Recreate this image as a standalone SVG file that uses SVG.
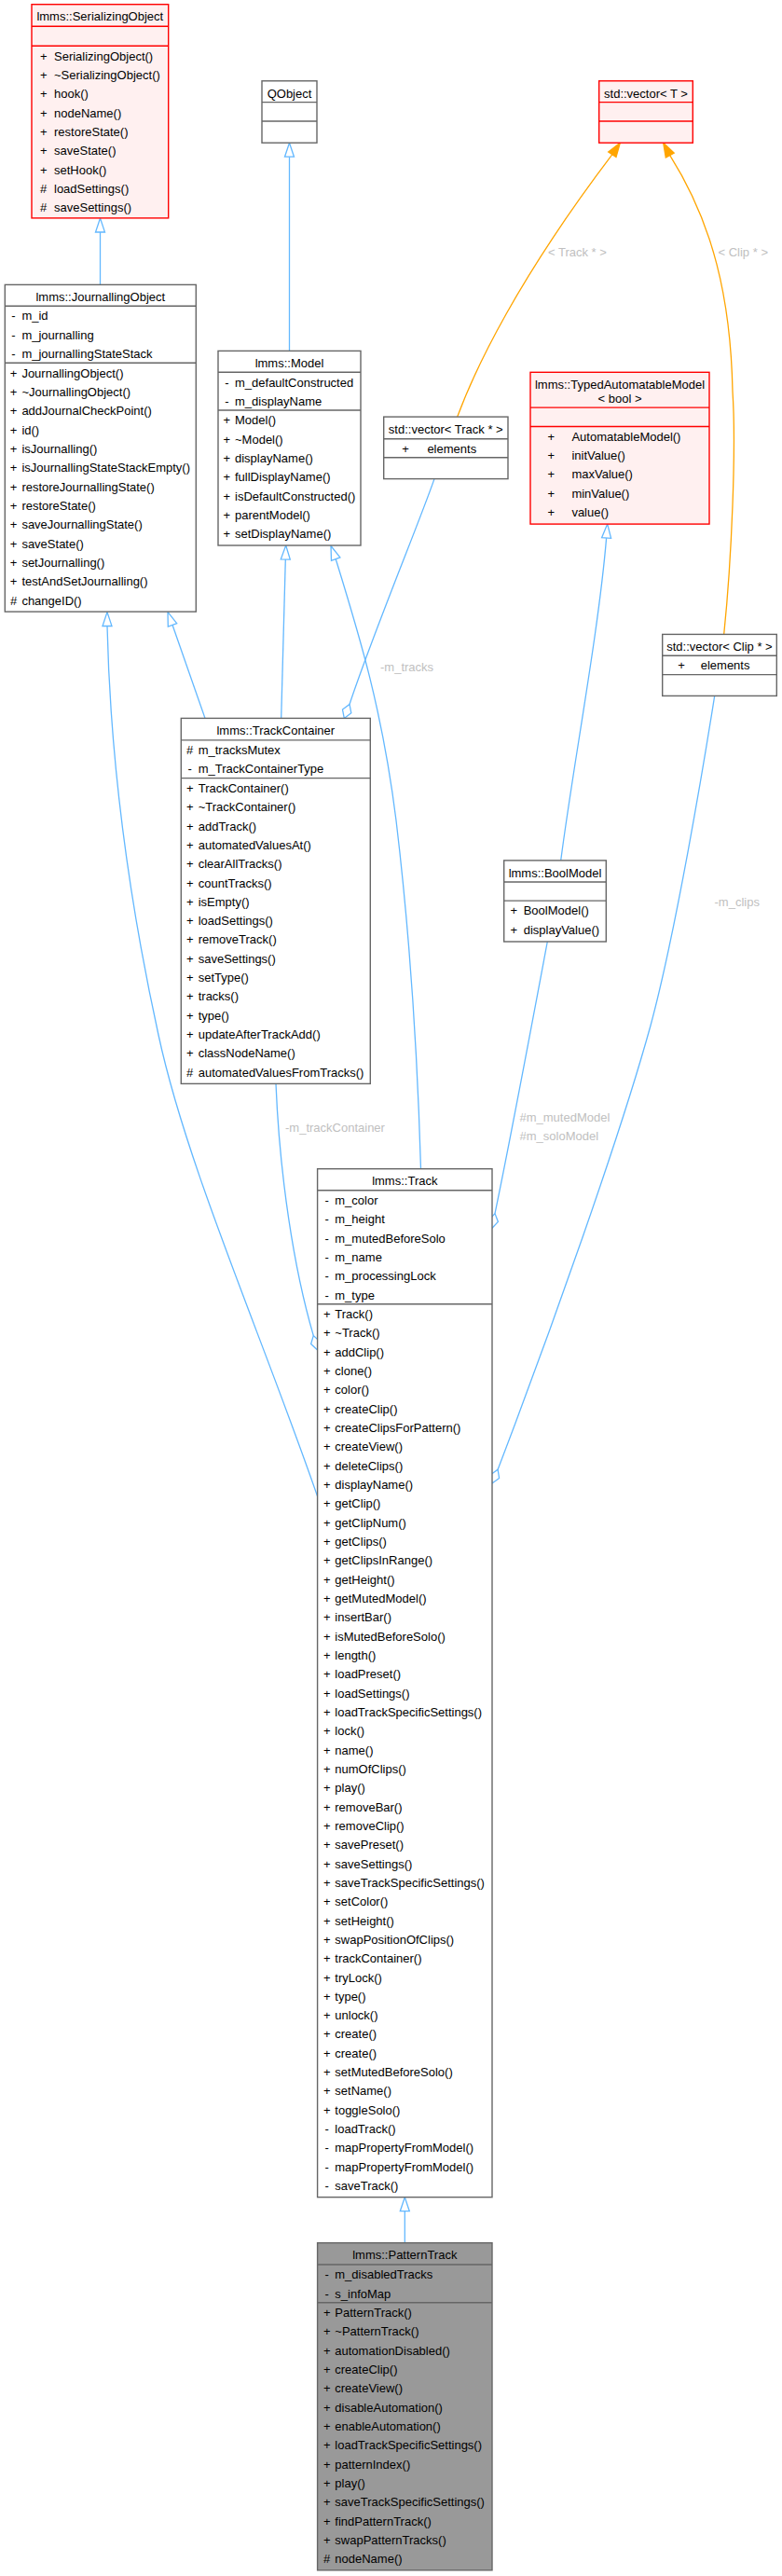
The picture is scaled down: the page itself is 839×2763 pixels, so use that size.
<svg xmlns="http://www.w3.org/2000/svg" width="839" height="2763" viewBox="0 0 839 2763">
<style>
text{font-family:"Liberation Sans",Arial,Helvetica,sans-serif;font-size:13px;fill:#000}
.t{text-anchor:middle}
.s{text-anchor:middle}
.lbl{fill:#c0c0c0}
.box{fill:#fff;stroke:#666;stroke-width:1.4}
.red{fill:#fff0f0;stroke:#f00;stroke-width:1.4}
.cur{fill:#999;stroke:#666;stroke-width:1.4}
.sep{stroke:#666;stroke-width:1.4}
.rsep{stroke:#f00;stroke-width:1.4}
.e{fill:none;stroke:#63b8ff;stroke-width:1.3}
.ah{fill:#fff;stroke:#63b8ff;stroke-width:1.3}
.o{fill:none;stroke:#ffa500;stroke-width:1.3}
.oh{fill:#ffa500;stroke:#ffa500;stroke-width:1.3}
</style>
<rect x="0" y="0" width="839" height="2763" fill="#fff"/>

<g id="connectors">
<!-- inheritance -->
<path class="e" d="M107.5,249 L107.5,305.4"/>
<polygon class="ah" points="107.5,234 102.5,249 112.5,249"/>
<path class="e" d="M310.5,168.2 L310.5,376.4"/>
<polygon class="ah" points="310.5,153.2 305.5,168.2 315.5,168.2"/>
<path class="e" d="M185,670.3 L220,770.4"/>
<polygon class="ah" points="180,656.3 189.7,668.7 180.3,672"/>
<path class="e" d="M306.3,600 L301.7,770.4"/>
<polygon class="ah" points="306.7,585 311.3,600.1 301.3,599.9"/>
<path class="e" d="M115,671.5 C118,800 135,950 170,1110 C200,1250 280,1430 340.6,1605"/>
<polygon class="ah" points="115,656.5 110,671.5 120,671.5"/>
<path class="e" d="M360.2,599.6 C385,680 410,760 425,880 C437,980 447,1100 451.5,1253.7"/>
<polygon class="ah" points="355,585.5 364.9,597.9 355.5,601.4"/>
<path class="e" d="M650.6,577.1 C642,680 615,820 601.7,922.9"/>
<polygon class="ah" points="651.7,562.1 655.6,577.4 645.6,576.7"/>
<path class="e" d="M434.3,2371.7 L434.3,2405.7"/>
<polygon class="ah" points="434.3,2356.7 429.3,2371.7 439.3,2371.7"/>
<!-- usage -->
<path class="e" d="M466,513.6 C450,560 400,680 375,755.5"/>
<polygon class="ah" points="369.3,770.4 376.8,764.7 375,755.5 367.5,761.1"/>
<text class="lbl" x="408" y="719.5">-m_tracks</text>
<path class="e" d="M296,1162.4 C300,1260 315,1360 336.3,1432.6"/>
<polygon class="ah" points="340.6,1448 343.3,1439 336.3,1432.6 333.6,1441.6"/>
<text class="lbl" x="306" y="1213.5">-m_trackContainer</text>
<path class="e" d="M587.3,1010 C576,1070 548,1220 531,1301.6"/>
<polygon class="ah" points="528,1317.3 534.4,1310.4 531,1301.6 524.6,1308.5"/>
<text class="lbl" x="557.5" y="1203">#m_mutedModel</text>
<text class="lbl" x="557.5" y="1223">#m_soloModel</text>
<path class="e" d="M766.7,746.4 C755,820 725,1000 698,1100 C665,1220 590,1430 534.1,1576.2"/>
<polygon class="ah" points="528,1591 535.6,1585.5 534.1,1576.2 526.4,1581.7"/>
<text class="lbl" x="766.5" y="972">-m_clips</text>
<!-- template -->
<path class="o" d="M490.7,447.1 C510,395 555,300 656.9,165.7"/>
<polygon class="oh" points="665.3,153.3 661,168.5 652.7,162.9"/>
<text class="lbl" x="588" y="275">&lt; Track * &gt;</text>
<path class="o" d="M776.7,680.4 C785,600 790,480 786,420 C784,320 765,240 718.75,166.6"/>
<polygon class="oh" points="711.7,153.3 723.2,164.2 714.3,168.9"/>
<text class="lbl" x="770.5" y="275">&lt; Clip * &gt;</text>
</g>

<g id="SerializingObject" transform="translate(34,4.7)">
<rect class="red" x="0" y="0" width="146.7" height="229.2"/>
<line class="rsep" x1="0" y1="23.6" x2="146.7" y2="23.6"/>
<line class="rsep" x1="0" y1="44.6" x2="146.7" y2="44.6"/>
<text class="t" x="73.3" y="17.8">lmms::SerializingObject</text>
<text class="s" x="12.7" y="59.9">+</text><text x="24" y="59.9">SerializingObject()</text>
<text class="s" x="12.7" y="80.2">+</text><text x="24" y="80.2">~SerializingObject()</text>
<text class="s" x="12.7" y="100.6">+</text><text x="24" y="100.6">hook()</text>
<text class="s" x="12.7" y="120.9">+</text><text x="24" y="120.9">nodeName()</text>
<text class="s" x="12.7" y="141.2">+</text><text x="24" y="141.2">restoreState()</text>
<text class="s" x="12.7" y="161.6">+</text><text x="24" y="161.6">saveState()</text>
<text class="s" x="12.7" y="181.9">+</text><text x="24" y="181.9">setHook()</text>
<text class="s" x="12.7" y="202.2">#</text><text x="24" y="202.2">loadSettings()</text>
<text class="s" x="12.7" y="222.5">#</text><text x="24" y="222.5">saveSettings()</text>
</g>

<g id="JournallingObject" transform="translate(5.3,305.4)">
<rect class="box" x="0" y="0" width="205" height="350.7"/>
<line class="sep" x1="0" y1="22.8" x2="205" y2="22.8"/>
<line class="sep" x1="0" y1="83.9" x2="205" y2="83.9"/>
<text class="t" x="102.5" y="17.8">lmms::JournallingObject</text>
<text class="s" x="9.2" y="38.1">-</text><text x="18.1" y="38.1">m_id</text>
<text class="s" x="9.2" y="58.4">-</text><text x="18.1" y="58.4">m_journalling</text>
<text class="s" x="9.2" y="78.8">-</text><text x="18.1" y="78.8">m_journallingStateStack</text>
<text class="s" x="9.2" y="99.2">+</text><text x="18.1" y="99.2">JournallingObject()</text>
<text class="s" x="9.2" y="119.5">+</text><text x="18.1" y="119.5">~JournallingObject()</text>
<text class="s" x="9.2" y="139.9">+</text><text x="18.1" y="139.9">addJournalCheckPoint()</text>
<text class="s" x="9.2" y="160.2">+</text><text x="18.1" y="160.2">id()</text>
<text class="s" x="9.2" y="180.5">+</text><text x="18.1" y="180.5">isJournalling()</text>
<text class="s" x="9.2" y="200.9">+</text><text x="18.1" y="200.9">isJournallingStateStackEmpty()</text>
<text class="s" x="9.2" y="221.2">+</text><text x="18.1" y="221.2">restoreJournallingState()</text>
<text class="s" x="9.2" y="241.5">+</text><text x="18.1" y="241.5">restoreState()</text>
<text class="s" x="9.2" y="261.8">+</text><text x="18.1" y="261.8">saveJournallingState()</text>
<text class="s" x="9.2" y="282.2">+</text><text x="18.1" y="282.2">saveState()</text>
<text class="s" x="9.2" y="302.5">+</text><text x="18.1" y="302.5">setJournalling()</text>
<text class="s" x="9.2" y="322.8">+</text><text x="18.1" y="322.8">testAndSetJournalling()</text>
<text class="s" x="9.2" y="343.2">#</text><text x="18.1" y="343.2">changeID()</text>
</g>

<g id="QObject" transform="translate(281,86.8)">
<rect class="box" x="0" y="0" width="59" height="66.4"/>
<line class="sep" x1="0" y1="22.8" x2="59" y2="22.8"/>
<line class="sep" x1="0" y1="43.2" x2="59" y2="43.2"/>
<text class="t" x="29.5" y="17.8">QObject</text>
</g>

<g id="Model" transform="translate(234,376.4)">
<rect class="box" x="0" y="0" width="153" height="208.6"/>
<line class="sep" x1="0" y1="22.9" x2="153" y2="22.9"/>
<line class="sep" x1="0" y1="63.6" x2="153" y2="63.6"/>
<text class="t" x="76.5" y="17.8">lmms::Model</text>
<text class="s" x="9.3" y="38.2">-</text><text x="18" y="38.2">m_defaultConstructed</text>
<text class="s" x="9.3" y="58.5">-</text><text x="18" y="58.5">m_displayName</text>
<text class="s" x="9.3" y="78.9">+</text><text x="18" y="78.9">Model()</text>
<text class="s" x="9.3" y="99.2">+</text><text x="18" y="99.2">~Model()</text>
<text class="s" x="9.3" y="119.6">+</text><text x="18" y="119.6">displayName()</text>
<text class="s" x="9.3" y="139.9">+</text><text x="18" y="139.9">fullDisplayName()</text>
<text class="s" x="9.3" y="160.2">+</text><text x="18" y="160.2">isDefaultConstructed()</text>
<text class="s" x="9.3" y="180.6">+</text><text x="18" y="180.6">parentModel()</text>
<text class="s" x="9.3" y="200.9">+</text><text x="18" y="200.9">setDisplayName()</text>
</g>

<g id="VectorT" transform="translate(642.7,86.8)">
<rect class="red" x="0" y="0" width="100.6" height="66.4"/>
<line class="rsep" x1="0" y1="22.8" x2="100.6" y2="22.8"/>
<line class="rsep" x1="0" y1="43.2" x2="100.6" y2="43.2"/>
<text class="t" x="50.3" y="17.8">std::vector&lt; T &gt;</text>
</g>

<g id="VectorTrack" transform="translate(411.7,447.1)">
<rect class="box" x="0" y="0" width="133.3" height="66.5"/>
<line class="sep" x1="0" y1="23.6" x2="133.3" y2="23.6"/>
<line class="sep" x1="0" y1="43.6" x2="133.3" y2="43.6"/>
<text class="t" x="66.6" y="18.3">std::vector&lt; Track * &gt;</text>
<text class="s" x="23.3" y="38.9">+</text><text x="46.7" y="38.9">elements</text>
</g>

<g id="TypedAutomatableModel" transform="translate(569,399.3)">
<rect class="red" x="0" y="0" width="192" height="162.8"/>
<line class="rsep" x1="0" y1="37.8" x2="192" y2="37.8"/>
<line class="rsep" x1="0" y1="58.2" x2="192" y2="58.2"/>
<text class="t" x="96" y="18.1">lmms::TypedAutomatableModel</text>
<text class="t" x="96" y="33.1">&lt; bool &gt;</text>
<text class="s" x="22.3" y="73.5">+</text><text x="44.4" y="73.5">AutomatableModel()</text>
<text class="s" x="22.3" y="93.8">+</text><text x="44.4" y="93.8">initValue()</text>
<text class="s" x="22.3" y="114.2">+</text><text x="44.4" y="114.2">maxValue()</text>
<text class="s" x="22.3" y="134.5">+</text><text x="44.4" y="134.5">minValue()</text>
<text class="s" x="22.3" y="154.8">+</text><text x="44.4" y="154.8">value()</text>
</g>

<g id="VectorClip" transform="translate(710.7,680.4)">
<rect class="box" x="0" y="0" width="122.6" height="66"/>
<line class="sep" x1="0" y1="22.8" x2="122.6" y2="22.8"/>
<line class="sep" x1="0" y1="43.2" x2="122.6" y2="43.2"/>
<text class="t" x="61.3" y="17.8">std::vector&lt; Clip * &gt;</text>
<text class="s" x="20.3" y="38.1">+</text><text x="41" y="38.1">elements</text>
</g>

<g id="BoolModel" transform="translate(540.7,922.9)">
<rect class="box" x="0" y="0" width="109.6" height="87.1"/>
<line class="sep" x1="0" y1="23.1" x2="109.6" y2="23.1"/>
<line class="sep" x1="0" y1="43.2" x2="109.6" y2="43.2"/>
<text class="t" x="54.8" y="17.8">lmms::BoolModel</text>
<text class="s" x="10.5" y="58.5">+</text><text x="21" y="58.5">BoolModel()</text>
<text class="s" x="10.5" y="78.8">+</text><text x="21" y="78.8">displayValue()</text>
</g>

<g id="TrackContainer" transform="translate(194.3,770.4)">
<rect class="box" x="0" y="0" width="203" height="392"/>
<line class="sep" x1="0" y1="23.5" x2="203" y2="23.5"/>
<line class="sep" x1="0" y1="64.2" x2="203" y2="64.2"/>
<text class="t" x="101.5" y="17.8">lmms::TrackContainer</text>
<text class="s" x="9.4" y="38.8">#</text><text x="18.4" y="38.8">m_tracksMutex</text>
<text class="s" x="9.4" y="59.1">-</text><text x="18.4" y="59.1">m_TrackContainerType</text>
<text class="s" x="9.4" y="79.5">+</text><text x="18.4" y="79.5">TrackContainer()</text>
<text class="s" x="9.4" y="99.8">+</text><text x="18.4" y="99.8">~TrackContainer()</text>
<text class="s" x="9.4" y="120.2">+</text><text x="18.4" y="120.2">addTrack()</text>
<text class="s" x="9.4" y="140.5">+</text><text x="18.4" y="140.5">automatedValuesAt()</text>
<text class="s" x="9.4" y="160.8">+</text><text x="18.4" y="160.8">clearAllTracks()</text>
<text class="s" x="9.4" y="181.2">+</text><text x="18.4" y="181.2">countTracks()</text>
<text class="s" x="9.4" y="201.5">+</text><text x="18.4" y="201.5">isEmpty()</text>
<text class="s" x="9.4" y="221.8">+</text><text x="18.4" y="221.8">loadSettings()</text>
<text class="s" x="9.4" y="242.1">+</text><text x="18.4" y="242.1">removeTrack()</text>
<text class="s" x="9.4" y="262.5">+</text><text x="18.4" y="262.5">saveSettings()</text>
<text class="s" x="9.4" y="282.8">+</text><text x="18.4" y="282.8">setType()</text>
<text class="s" x="9.4" y="303.1">+</text><text x="18.4" y="303.1">tracks()</text>
<text class="s" x="9.4" y="323.5">+</text><text x="18.4" y="323.5">type()</text>
<text class="s" x="9.4" y="343.8">+</text><text x="18.4" y="343.8">updateAfterTrackAdd()</text>
<text class="s" x="9.4" y="364.1">+</text><text x="18.4" y="364.1">classNodeName()</text>
<text class="s" x="9.4" y="384.5">#</text><text x="18.4" y="384.5">automatedValuesFromTracks()</text>
</g>

<g id="Track" transform="translate(340.6,1253.7)">
<rect class="box" x="0" y="0" width="187.4" height="1103"/>
<line class="sep" x1="0" y1="23" x2="187.4" y2="23"/>
<line class="sep" x1="0" y1="145" x2="187.4" y2="145"/>
<text class="t" x="93.7" y="17.8">lmms::Track</text>
<text class="s" x="10.1" y="38.3">-</text><text x="18.7" y="38.3">m_color</text>
<text class="s" x="10.1" y="58.6">-</text><text x="18.7" y="58.6">m_height</text>
<text class="s" x="10.1" y="79">-</text><text x="18.7" y="79">m_mutedBeforeSolo</text>
<text class="s" x="10.1" y="99.3">-</text><text x="18.7" y="99.3">m_name</text>
<text class="s" x="10.1" y="119.6">-</text><text x="18.7" y="119.6">m_processingLock</text>
<text class="s" x="10.1" y="140">-</text><text x="18.7" y="140">m_type</text>
<text class="s" x="10.1" y="160.3">+</text><text x="18.7" y="160.3">Track()</text>
<text class="s" x="10.1" y="180.6">+</text><text x="18.7" y="180.6">~Track()</text>
<text class="s" x="10.1" y="201">+</text><text x="18.7" y="201">addClip()</text>
<text class="s" x="10.1" y="221.3">+</text><text x="18.7" y="221.3">clone()</text>
<text class="s" x="10.1" y="241.6">+</text><text x="18.7" y="241.6">color()</text>
<text class="s" x="10.1" y="262">+</text><text x="18.7" y="262">createClip()</text>
<text class="s" x="10.1" y="282.3">+</text><text x="18.7" y="282.3">createClipsForPattern()</text>
<text class="s" x="10.1" y="302.6">+</text><text x="18.7" y="302.6">createView()</text>
<text class="s" x="10.1" y="322.9">+</text><text x="18.7" y="322.9">deleteClips()</text>
<text class="s" x="10.1" y="343.3">+</text><text x="18.7" y="343.3">displayName()</text>
<text class="s" x="10.1" y="363.6">+</text><text x="18.7" y="363.6">getClip()</text>
<text class="s" x="10.1" y="383.9">+</text><text x="18.7" y="383.9">getClipNum()</text>
<text class="s" x="10.1" y="404.3">+</text><text x="18.7" y="404.3">getClips()</text>
<text class="s" x="10.1" y="424.6">+</text><text x="18.7" y="424.6">getClipsInRange()</text>
<text class="s" x="10.1" y="444.9">+</text><text x="18.7" y="444.9">getHeight()</text>
<text class="s" x="10.1" y="465.3">+</text><text x="18.7" y="465.3">getMutedModel()</text>
<text class="s" x="10.1" y="485.6">+</text><text x="18.7" y="485.6">insertBar()</text>
<text class="s" x="10.1" y="505.9">+</text><text x="18.7" y="505.9">isMutedBeforeSolo()</text>
<text class="s" x="10.1" y="526.2">+</text><text x="18.7" y="526.2">length()</text>
<text class="s" x="10.1" y="546.6">+</text><text x="18.7" y="546.6">loadPreset()</text>
<text class="s" x="10.1" y="566.9">+</text><text x="18.7" y="566.9">loadSettings()</text>
<text class="s" x="10.1" y="587.2">+</text><text x="18.7" y="587.2">loadTrackSpecificSettings()</text>
<text class="s" x="10.1" y="607.6">+</text><text x="18.7" y="607.6">lock()</text>
<text class="s" x="10.1" y="627.9">+</text><text x="18.7" y="627.9">name()</text>
<text class="s" x="10.1" y="648.2">+</text><text x="18.7" y="648.2">numOfClips()</text>
<text class="s" x="10.1" y="668.6">+</text><text x="18.7" y="668.6">play()</text>
<text class="s" x="10.1" y="688.9">+</text><text x="18.7" y="688.9">removeBar()</text>
<text class="s" x="10.1" y="709.2">+</text><text x="18.7" y="709.2">removeClip()</text>
<text class="s" x="10.1" y="729.5">+</text><text x="18.7" y="729.5">savePreset()</text>
<text class="s" x="10.1" y="749.9">+</text><text x="18.7" y="749.9">saveSettings()</text>
<text class="s" x="10.1" y="770.2">+</text><text x="18.7" y="770.2">saveTrackSpecificSettings()</text>
<text class="s" x="10.1" y="790.5">+</text><text x="18.7" y="790.5">setColor()</text>
<text class="s" x="10.1" y="810.9">+</text><text x="18.7" y="810.9">setHeight()</text>
<text class="s" x="10.1" y="831.2">+</text><text x="18.7" y="831.2">swapPositionOfClips()</text>
<text class="s" x="10.1" y="851.5">+</text><text x="18.7" y="851.5">trackContainer()</text>
<text class="s" x="10.1" y="871.9">+</text><text x="18.7" y="871.9">tryLock()</text>
<text class="s" x="10.1" y="892.2">+</text><text x="18.7" y="892.2">type()</text>
<text class="s" x="10.1" y="912.5">+</text><text x="18.7" y="912.5">unlock()</text>
<text class="s" x="10.1" y="932.8">+</text><text x="18.7" y="932.8">create()</text>
<text class="s" x="10.1" y="953.2">+</text><text x="18.7" y="953.2">create()</text>
<text class="s" x="10.1" y="973.5">+</text><text x="18.7" y="973.5">setMutedBeforeSolo()</text>
<text class="s" x="10.1" y="993.8">+</text><text x="18.7" y="993.8">setName()</text>
<text class="s" x="10.1" y="1014.2">+</text><text x="18.7" y="1014.2">toggleSolo()</text>
<text class="s" x="10.1" y="1034.5">-</text><text x="18.7" y="1034.5">loadTrack()</text>
<text class="s" x="10.1" y="1054.8">-</text><text x="18.7" y="1054.8">mapPropertyFromModel()</text>
<text class="s" x="10.1" y="1075.2">-</text><text x="18.7" y="1075.2">mapPropertyFromModel()</text>
<text class="s" x="10.1" y="1095.5">-</text><text x="18.7" y="1095.5">saveTrack()</text>
</g>

<g id="PatternTrack" transform="translate(340.6,2405.7)">
<rect class="cur" x="0" y="0" width="187.4" height="351.1"/>
<line class="sep" x1="0" y1="23.3" x2="187.4" y2="23.3"/>
<line class="sep" x1="0" y1="64" x2="187.4" y2="64"/>
<text class="t" x="93.7" y="17.8">lmms::PatternTrack</text>
<text class="s" x="10.1" y="38.6">-</text><text x="18.7" y="38.6">m_disabledTracks</text>
<text class="s" x="10.1" y="58.9">-</text><text x="18.7" y="58.9">s_infoMap</text>
<text class="s" x="10.1" y="79.3">+</text><text x="18.7" y="79.3">PatternTrack()</text>
<text class="s" x="10.1" y="99.6">+</text><text x="18.7" y="99.6">~PatternTrack()</text>
<text class="s" x="10.1" y="120">+</text><text x="18.7" y="120">automationDisabled()</text>
<text class="s" x="10.1" y="140.3">+</text><text x="18.7" y="140.3">createClip()</text>
<text class="s" x="10.1" y="160.6">+</text><text x="18.7" y="160.6">createView()</text>
<text class="s" x="10.1" y="181">+</text><text x="18.7" y="181">disableAutomation()</text>
<text class="s" x="10.1" y="201.3">+</text><text x="18.7" y="201.3">enableAutomation()</text>
<text class="s" x="10.1" y="221.6">+</text><text x="18.7" y="221.6">loadTrackSpecificSettings()</text>
<text class="s" x="10.1" y="241.9">+</text><text x="18.7" y="241.9">patternIndex()</text>
<text class="s" x="10.1" y="262.3">+</text><text x="18.7" y="262.3">play()</text>
<text class="s" x="10.1" y="282.6">+</text><text x="18.7" y="282.6">saveTrackSpecificSettings()</text>
<text class="s" x="10.1" y="302.9">+</text><text x="18.7" y="302.9">findPatternTrack()</text>
<text class="s" x="10.1" y="323.3">+</text><text x="18.7" y="323.3">swapPatternTracks()</text>
<text class="s" x="10.1" y="343.6">#</text><text x="18.7" y="343.6">nodeName()</text>
</g>
</svg>
